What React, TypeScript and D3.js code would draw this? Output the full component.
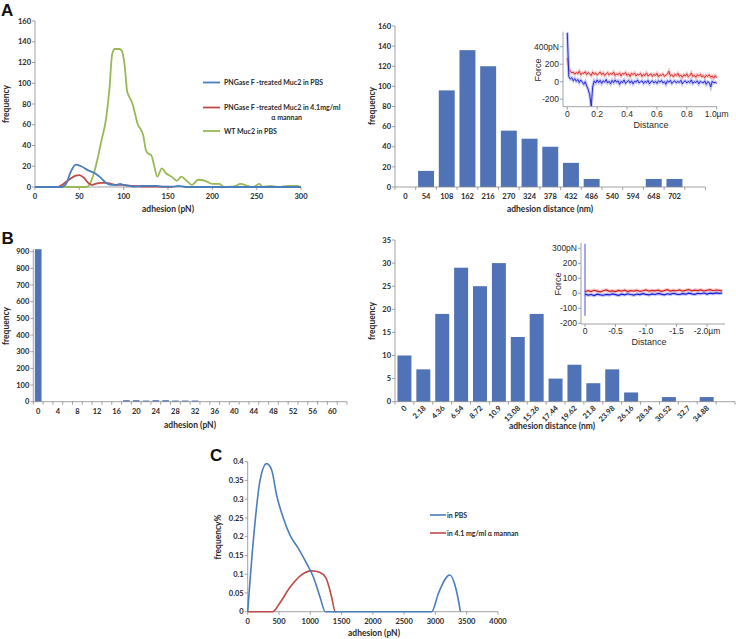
import React from "react";
import * as d3 from "d3";

// ---------- DATA ----------
// Panel A (left): smoothed frequency curves
const aBluePts: [number, number][] = [[0,0],[30,0],[35,3],[40,14],[46,21.5],[52,20],[60,16],[68,13],[74,9],[80,4],[86,2],[92,2],[96,3],[100,2],[106,1],[112,0.3],[120,1],[130,1],[137,1],[145,0.3],[155,0.3],[162,1],[170,0],[200,0],[300,0]];
const aRedPts: [number, number][] = [[0,0],[26,0],[32,3],[40,8],[46,11],[50,11.5],[55,9],[60,4],[64,2],[68,3],[74,4],[80,4],[86,3],[92,2],[98,2],[104,1.5],[110,1],[120,0.5],[135,0.3],[155,0]];
const aGreenPts: [number, number][] = [[0,0],[58,0],[62,3],[66,12],[70,25],[75,45],[80,65],[84,95],[87,128],[90,133],[95,133],[98,131],[101,118],[104,92],[107,86],[110,80],[113,70],[116,60],[119,56],[122,50],[125,36],[128,32],[131,31],[134,22],[138,10],[143,18],[148,13],[154,10],[160,6],[165,10],[171,6],[177,2],[184,7],[192,6],[200,3],[208,3],[213,0],[224,0.5],[232,3],[240,1],[246,0],[253,3],[257,0],[265,1],[275,0],[285,1],[295,1],[300,0]];
const aLeftXTicks = [0, 50, 100, 150, 200, 250, 300];
const aLeftYTicks = [0, 20, 40, 60, 80, 100, 120, 140, 160];
const aLegend = ["PNGase F -treated Muc2 in PBS", "PNGase F -treated Muc2 in 4.1mg/ml", "WT Muc2 in PBS"];

// Panel A (right): histogram
const aDistCats = ["0","54","108","162","216","270","324","378","432","486","540","594","648","702",""];
const aDistValues = [0,16,96,136,120,56,48,40,24,8,0,0,8,8,0];
const aRightYTicks = [0, 20, 40, 60, 80, 100, 120, 140, 160];

// Inset A: force traces (x in µm, force in pN)
const insetAX = d3.range(0, 101).map((i) => i / 100);
const insetARed = [270,150,120,100,110,85,105,90,120,80,100,95,115,80,105,90,70,110,85,100,75,95,110,80,100,70,90,105,75,95,85,110,70,90,80,100,65,95,85,105,70,90,60,95,80,100,65,85,75,95,60,85,70,100,65,80,90,60,85,70,95,55,80,70,90,60,75,85,120,65,80,55,85,70,95,60,75,50,80,65,90,55,70,100,60,75,50,80,65,85,55,70,45,75,60,80,50,65,40,70,45];
const insetABlue = [560,60,30,45,10,35,5,25,-10,20,-5,-30,0,-50,-90,-150,-280,-60,10,-15,20,-10,15,-20,10,-5,25,-15,5,-25,15,-10,20,-5,10,-30,5,-10,20,-20,0,15,-15,10,-25,5,-5,20,-15,0,10,-20,5,-10,15,-25,0,10,-15,5,-20,10,-5,15,-15,0,-30,10,-5,15,-20,0,10,-15,5,-10,15,-25,0,10,-15,5,-10,20,-20,0,-10,10,-25,5,-5,-15,10,-30,0,-10,-60,5,-15,-5,-20];
const insetAXTicks = [0, 0.2, 0.4, 0.6, 0.8, 1.0];
const insetAXLabels = ["0", "0.2", "0.4", "0.6", "0.8", "1.0µm"];
const insetAYTicks = [-200, 0, 200, 400];
const insetAYLabels = ["-200", "0", "200", "400pN"];

// Panel B (left): histogram
const bForceCats = ["0","2","4","6","8","10","12","14","16","18","20","22","24","26","28","30","32","34","36","38","40","42","44","46","48","50","52","54","56","58","60","62"];
const bForceValues = [915,0,0,0,0,0,0,0,0,9,9,7,9,9,7,7,7,0,0,0,3,0,0,0,0,0,0,0,0,0,0,0];
const bLeftYTicks = [0, 100, 200, 300, 400, 500, 600, 700, 800, 900];

// Panel B (right): histogram
const bDistCats = ["0","2.18","4.36","6.54","8.72","10.9","13.08","15.26","17.44","19.62","21.8","23.98","26.16","28.34","30.52","32.7","34.88",""];
const bDistValues = [10,7,19,29,25,30,14,19,5,8,4,7,2,0,1,0,1,0];
const bRightYTicks = [0, 5, 10, 15, 20, 25, 30, 35];

// Inset B: force traces
const insetBX = d3.range(0, 46).map((i) => -i * 0.05);
const insetBRed = [10,18,12,20,15,10,17,22,13,16,11,19,14,21,12,18,15,20,13,17,22,14,19,16,21,13,18,24,15,20,17,22,14,19,25,16,21,18,23,15,20,24,17,22,19,16];
const insetBBlue = [-5,-12,-8,-15,-6,-10,-13,-7,-11,-4,-9,-14,-6,-10,-3,-8,-12,-5,-9,-2,-7,-11,-4,-8,-1,-6,-10,-3,-7,0,-5,-8,-2,-6,1,-4,-7,0,-3,2,-5,1,-2,3,-1,2];
const insetBSpike = [330, -150];
const insetBXTicks = [0, -0.5, -1.0, -1.5, -2.0];
const insetBXLabels = ["0", "-0.5", "-1.0", "-1.5", "-2.0µm"];
const insetBYTicks = [-200, -100, 0, 100, 200, 300];
const insetBYLabels = ["-200", "-100", "0", "100", "200", "300pN"];

// Panel C: frequency % curves
const cBluePts: [number, number][] = [[0,0],[90,0.19],[197,0.35],[303,0.395],[383,0.378],[463,0.31],[569,0.25],[676,0.204],[809,0.169],[941,0.129],[1048,0.093],[1154,0.04],[1240,0],[2700,0],[2940,0],[3050,0.05],[3229,0.098],[3330,0.06],[3400,0]];
const cRedPts: [number, number][] = [[0,0],[400,0],[500,0.02],[676,0.065],[835,0.095],[1021,0.109],[1150,0.105],[1250,0.09],[1340,0.04],[1400,0],[1420,0]];
const cXTicks = [0, 500, 1000, 1500, 2000, 2500, 3000, 3500, 4000];
const cYTicks = [0, 0.05, 0.1, 0.15, 0.2, 0.25, 0.3, 0.35, 0.4];
const cLegend = ["in PBS", "in 4.1 mg/ml  \u03b1 mannan"];

// ---------- STYLE ----------
const AXIS = "#8a8a8a";
const TXT = "#2a2a2a";
const BLUE = "#4A7EBB";
const RED = "#BE4B48";
const GREEN = "#98B954";
const BAR = "#4F73B6";
const F = "Lato, 'Open Sans', Arial, sans-serif";
const FI = "'Liberation Sans', Arial, sans-serif";

function AxisLeft({ x, y0, y1, ticks, scale, labels, font = F, size = 7.5, weight = 700 }: any) {
  return (
    <g>
      <line x1={x} x2={x} y1={y0} y2={y1} stroke={AXIS} strokeWidth={0.8} />
      {ticks.map((t: number, i: number) => (
        <g key={i}>
          <line x1={x - 3} x2={x} y1={scale(t)} y2={scale(t)} stroke={AXIS} strokeWidth={0.8} />
          <text x={x - 4} y={scale(t) + size * 0.35} textAnchor="end" fontFamily={font} fontSize={size} fontWeight={weight} fill={TXT}>
            {labels ? labels[i] : String(t)}
          </text>
        </g>
      ))}
    </g>
  );
}

function AxisBottomLinear({ y, x0, x1, ticks, scale, labels, labelDy = 12, font = F, size = 7.5, weight = 700 }: any) {
  return (
    <g>
      <line x1={x0} x2={x1} y1={y} y2={y} stroke={AXIS} strokeWidth={0.8} />
      {ticks.map((t: number, i: number) => (
        <g key={i}>
          <line x1={scale(t)} x2={scale(t)} y1={y} y2={y + 3} stroke={AXIS} strokeWidth={0.8} />
          <text x={scale(t)} y={y + labelDy} textAnchor="middle" fontFamily={font} fontSize={size} fontWeight={weight} fill={TXT}>
            {labels ? labels[i] : String(t)}
          </text>
        </g>
      ))}
    </g>
  );
}

function BandBottom({ y, band, cats, labelEvery = 1, rotate = false, labelDy = 12 }: any) {
  const r = band.range();
  const step = band.step();
  const start = r[0];
  return (
    <g>
      <line x1={r[0]} x2={r[1]} y1={y} y2={y} stroke={AXIS} strokeWidth={0.8} />
      {cats.map((c: string, i: number) => (
        <line key={"t" + i} x1={start + i * step} x2={start + i * step} y1={y} y2={y + 3} stroke={AXIS} strokeWidth={0.8} />
      ))}
      <line x1={r[1]} x2={r[1]} y1={y} y2={y + 3} stroke={AXIS} strokeWidth={0.8} />
      {cats.map((c: string, i: number) => {
        if (i % labelEvery !== 0 || c === "") return null;
        const cx = (band(c) as number) + band.bandwidth() / 2;
        if (rotate) {
          return (
            <text key={"l" + i} transform={`translate(${cx + 3},${y + 7}) rotate(-45)`} textAnchor="end" fontFamily={F} fontSize={7.5} fontWeight={700} fill={TXT}>
              {c}
            </text>
          );
        }
        return (
          <text key={"l" + i} x={cx} y={y + labelDy} textAnchor="middle" fontFamily={F} fontSize={7.5} fontWeight={700} fill={TXT}>
            {c}
          </text>
        );
      })}
    </g>
  );
}

function Title({ x, y, text, rotate = false, size = 8.5, font = F, weight = 700 }: any) {
  return (
    <text
      transform={rotate ? `translate(${x},${y}) rotate(-90)` : `translate(${x},${y})`}
      textAnchor="middle"
      fontFamily={font}
      fontSize={size}
      fontWeight={weight}
      fill={TXT}
    >
      {text}
    </text>
  );
}

function PanelALeft() {
  const x = d3.scaleLinear().domain([0, 300]).range([35, 301]);
  const y = d3.scaleLinear().domain([0, 160]).range([187, 21]);
  const line = d3.line<[number, number]>().x((d) => x(d[0])).y((d) => y(d[1])).curve(d3.curveMonotoneX);
  const leg = [
    { c: BLUE, ly: 82.5 },
    { c: RED, ly: 107.5 },
    { c: GREEN, ly: 131 },
  ];
  return (
    <g>
      <AxisLeft x={35} y0={187} y1={21} ticks={aLeftYTicks} scale={y} />
      <AxisBottomLinear y={187} x0={35} x1={301} ticks={aLeftXTicks} scale={x} />
      <path d={line(aGreenPts) || ""} fill="none" stroke={GREEN} strokeWidth={1.8} />
      <path d={line(aRedPts) || ""} fill="none" stroke={RED} strokeWidth={1.8} />
      <path d={line(aBluePts) || ""} fill="none" stroke={BLUE} strokeWidth={1.8} />
      <Title x={168} y={212} text="adhesion (pN)" />
      <Title x={9} y={104} text="frequency" rotate />
      {leg.map((l, i) => (
        <g key={i}>
          <line x1={203} x2={220} y1={l.ly} y2={l.ly} stroke={l.c} strokeWidth={1.8} />
          <text x={224} y={l.ly + 2.6} fontFamily={F} fontSize={7} fontWeight={700} fill={TXT}>
            {aLegend[i]}
          </text>
        </g>
      ))}
      <text x={302} y={120} textAnchor="end" fontFamily={F} fontSize={7} fontWeight={700} fill={TXT}>
        {"\u03b1 mannan"}
      </text>
    </g>
  );
}

function InsetA() {
  const x = d3.scaleLinear().domain([0, 1]).range([567.3, 716.7]);
  const y = d3.scaleLinear().domain([0, 200]).range([81.7, 64.2]);
  const pts = (vals: number[]) => insetAX.map((v, i) => [v, vals[i]] as [number, number]);
  const line = d3.line<[number, number]>().x((d) => x(d[0])).y((d) => y(d[1]));
  return (
    <g>
      <path d={line(pts(insetARed)) || ""} fill="none" stroke="#f0a0a0" strokeWidth={3} opacity={0.6} />
      <path d={line(pts(insetARed)) || ""} fill="none" stroke="#d42020" strokeWidth={0.9} />
      <path d={line(pts(insetABlue)) || ""} fill="none" stroke="#9aa0f0" strokeWidth={3} opacity={0.6} />
      <path d={line(pts(insetABlue)) || ""} fill="none" stroke="#1a1ad0" strokeWidth={0.9} />
      <AxisLeft x={563} y0={106.7} y1={31.7} ticks={insetAYTicks} scale={y} labels={insetAYLabels} font={FI} size={8.5} weight={400} />
      <AxisBottomLinear y={106.7} x0={563} x1={717} ticks={insetAXTicks} scale={x} labels={insetAXLabels} labelDy={9.8} font={FI} size={8.5} weight={400} />
      <Title x={651} y={127.5} text="Distance" font={FI} size={9} weight={400} />
      <Title x={541} y={70} text="Force" rotate font={FI} size={9} weight={400} />
    </g>
  );
}

function PanelARight() {
  const keys = aDistCats.map((c, i) => c || "e" + i);
  const band = d3.scaleBand<string>().domain(keys).range([395, 705.5]).paddingInner(0.23).paddingOuter(0.115);
  const y = d3.scaleLinear().domain([0, 160]).range([187, 26]);
  return (
    <g>
      {aDistValues.map((v, i) => (
        <rect key={i} x={band(keys[i])} width={band.bandwidth()} y={y(v)} height={187 - y(v)} fill={BAR} />
      ))}
      <AxisLeft x={395} y0={187} y1={26} ticks={aRightYTicks} scale={y} />
      <BandBottom y={187} band={band} cats={keys.map((k, i) => (aDistCats[i] ? k : ""))} />
      <Title x={550} y={212} text="adhesion distance (nm)" />
      <Title x={375} y={106} text="frequency" rotate />
      <InsetA />
    </g>
  );
}

function PanelBLeft() {
  const band = d3.scaleBand<string>().domain(bForceCats).range([33.3, 347]).paddingInner(0.32).paddingOuter(0.16);
  const y = d3.scaleLinear().domain([0, 900]).range([401.7, 251.7]);
  return (
    <g>
      {bForceValues.map((v, i) =>
        v > 0 ? <rect key={i} x={band(bForceCats[i])} width={band.bandwidth()} y={y(v)} height={401.7 - y(v)} fill={BAR} /> : null
      )}
      <AxisLeft x={33.3} y0={401.7} y1={249} ticks={bLeftYTicks} scale={y} />
      <BandBottom y={401.7} band={band} cats={bForceCats} labelEvery={2} />
      <Title x={190} y={428} text="adhesion (pN)" />
      <Title x={9} y={326} text="frequency" rotate />
    </g>
  );
}

function InsetB() {
  const x = d3.scaleLinear().domain([0, -0.5]).range([585, 615.5]);
  const y = d3.scaleLinear().domain([0, 100]).range([293.3, 278.3]);
  const pts = (vals: number[]) => insetBX.map((v, i) => [v, vals[i]] as [number, number]);
  const line = d3.line<[number, number]>().x((d) => x(d[0])).y((d) => y(d[1]));
  return (
    <g>
      <path d={line(pts(insetBRed)) || ""} fill="none" stroke="#f0a0a0" strokeWidth={3.5} opacity={0.6} />
      <path d={line(pts(insetBRed)) || ""} fill="none" stroke="#d42020" strokeWidth={1.2} />
      <path d={line(pts(insetBBlue)) || ""} fill="none" stroke="#9aa0f0" strokeWidth={3.5} opacity={0.6} />
      <path d={line(pts(insetBBlue)) || ""} fill="none" stroke="#1a1ad0" strokeWidth={1.2} />
      <line x1={x(0)} x2={x(0)} y1={y(insetBSpike[0])} y2={y(insetBSpike[1])} stroke="#3a3ae0" strokeWidth={0.9} />
      <AxisLeft x={581} y0={324} y1={243} ticks={insetBYTicks} scale={y} labels={insetBYLabels} font={FI} size={8.5} weight={400} />
      <AxisBottomLinear y={324} x0={581} x1={725} ticks={insetBXTicks} scale={x} labels={insetBXLabels} labelDy={9.8} font={FI} size={8.5} weight={400} />
      <Title x={649} y={344.5} text="Distance" font={FI} size={9} weight={400} />
      <Title x={561} y={284} text="Force" rotate font={FI} size={9} weight={400} />
    </g>
  );
}

function PanelBRight() {
  const keys = bDistCats.map((c, i) => c || "e" + i);
  const band = d3.scaleBand<string>().domain(keys).range([395, 735]).paddingInner(0.26).paddingOuter(0.13);
  const y = d3.scaleLinear().domain([0, 35]).range([401.7, 240]);
  return (
    <g>
      {bDistValues.map((v, i) => (
        <rect key={i} x={band(keys[i])} width={band.bandwidth()} y={y(v)} height={401.7 - y(v)} fill={BAR} />
      ))}
      <AxisLeft x={395} y0={401.7} y1={240} ticks={bRightYTicks} scale={y} />
      <BandBottom y={401.7} band={band} cats={keys.map((k, i) => (bDistCats[i] ? k : ""))} rotate />
      <Title x={552} y={429} text="adhesion distance (nm)" />
      <Title x={375} y={321} text="frequency" rotate />
      <InsetB />
    </g>
  );
}

function PanelC() {
  const x = d3.scaleLinear().domain([0, 4000]).range([247.7, 498]);
  const y = d3.scaleLinear().domain([0, 0.4]).range([611.7, 461.7]);
  const line = d3.line<[number, number]>().x((d) => x(d[0])).y((d) => y(d[1])).curve(d3.curveMonotoneX);
  return (
    <g>
      <AxisLeft x={247.7} y0={611.7} y1={461.7} ticks={cYTicks} scale={y} labels={cYTicks.map((t) => String(+t.toFixed(2)))} />
      <AxisBottomLinear y={611.7} x0={247.7} x1={498} ticks={cXTicks} scale={x} />
      <path d={line(cRedPts) || ""} fill="none" stroke={RED} strokeWidth={1.6} />
      <path d={line(cBluePts) || ""} fill="none" stroke={BLUE} strokeWidth={1.6} />
      <Title x={374} y={636} text="adhesion (pN)" />
      <Title x={221} y={537} text="frequency%" rotate />
      {[BLUE, RED].map((c, i) => (
        <g key={i}>
          <line x1={430} x2={446} y1={515 + i * 18} y2={515 + i * 18} stroke={c} strokeWidth={1.6} />
          <text x={447} y={515 + i * 18 + 2.6} fontFamily={F} fontSize={7} fontWeight={700} fill={TXT}>
            {cLegend[i]}
          </text>
        </g>
      ))}
    </g>
  );
}

export default function App() {
  return (
    <svg width={736} height={639} viewBox="0 0 736 639" style={{ position: "absolute", left: 0, top: 0, background: "#fff" }}>
      <rect x={0} y={0} width={736} height={639} fill="#fff" />
      <text x={1} y={16} fontFamily="'Liberation Sans', Arial, sans-serif" fontWeight={700} fontSize={17} fill="#111">A</text>
      <text x={1.5} y={243.5} fontFamily="'Liberation Sans', Arial, sans-serif" fontWeight={700} fontSize={17} fill="#111">B</text>
      <text x={210} y={461} fontFamily="'Liberation Sans', Arial, sans-serif" fontWeight={700} fontSize={17} fill="#111">C</text>
      <PanelALeft />
      <PanelARight />
      <PanelBLeft />
      <PanelBRight />
      <PanelC />
    </svg>
  );
}
